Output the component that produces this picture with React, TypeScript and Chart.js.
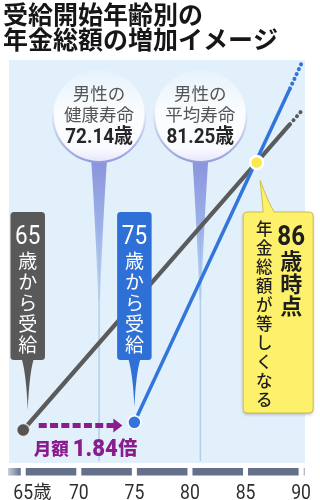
import React, { useEffect, useRef } from 'react';
import { Chart, registerables } from 'chart.js';

Chart.register(...registerables);

// ---------- data ----------
const TITLE_LINES = ['受給開始年齢別の', '年金総額の増加イメージ'];
const AXIS_TICKS = [65, 70, 75, 80, 85, 90];
const AXIS_TICK_LABELS = ['65', '70', '75', '80', '85', '90'];
const AXIS_FIRST_UNIT = '歳';

const START65_AGES = [65, 86, 89];
const START65_TOTALS = [0, 21, 24];
const START65_PROJ_AGES = [89, 90.1];
const START65_PROJ_TOTALS = [24, 25.1];

const START75_AGES = [75, 86, 89];
const START75_TOTALS = [0.6, 21.2, 26.8];
const START75_PROJ_AGES = [89, 90.1];
const START75_PROJ_TOTALS = [26.8, 28.9];

const BREAK_EVEN_AGES = [86];
const BREAK_EVEN_TOTALS = [21];

const LIFE_AGES = [72.14, 81.25];
const LIFE_LABELS = [
  ['男性の', '健康寿命', '72.14歳'],
  ['男性の', '平均寿命', '81.25歳'],
];

const START_AGES = [65, 75];
const START_NUMS = ['65', '75'];
const START_TEXT = '歳から受給';

const BREAK_EVEN_NUM = '86';
const BREAK_EVEN_COL_A = '歳時点';
const BREAK_EVEN_COL_B = '年金総額が等しくなる';

const RATIO_PREFIX = '月額';
const RATIO_VALUE = '1.84';
const RATIO_SUFFIX = '倍';

// ---------- styles ----------
const CJK = "'Noto Sans CJK JP'";
const NUM = "Roboto, 'Noto Sans CJK JP'";
const GRAY = '#5b5b5b';
const BLUE = '#3276dc';
const BOX_GRAY = '#595959';
const BOX_BLUE = '#2f70d6';
const PURPLE = '#8b1c8e';
const BG = '#e1f0fb';

const pts = (xs: number[], ys: number[]) => xs.map((x, i) => ({ x, y: ys[i] }));

function rr(ctx: CanvasRenderingContext2D, x: number, y: number, w: number, h: number, r: number) {
  ctx.beginPath();
  ctx.moveTo(x + r, y);
  ctx.lineTo(x + w - r, y);
  ctx.quadraticCurveTo(x + w, y, x + w, y + r);
  ctx.lineTo(x + w, y + h - r);
  ctx.quadraticCurveTo(x + w, y + h, x + w - r, y + h);
  ctx.lineTo(x + r, y + h);
  ctx.quadraticCurveTo(x, y + h, x, y + h - r);
  ctx.lineTo(x, y + r);
  ctx.quadraticCurveTo(x, y, x + r, y);
  ctx.closePath();
}

const bgPlugin = {
  id: 'bgArea',
  beforeDraw(chart: any) {
    const { ctx, chartArea: a } = chart;
    ctx.save();
    ctx.fillStyle = BG;
    ctx.fillRect(a.left, a.top, a.right - a.left, a.bottom - a.top);
    ctx.restore();
  },
};

const bubblePlugin = {
  id: 'bubbles',
  beforeDatasetsDraw(chart: any) {
    const { ctx, chartArea: a } = chart;
    const xs = chart.scales.x;
    LIFE_AGES.forEach((age, i) => {
      const cx = xs.getPixelForValue(age) - 3.5;
      const cy = 116;
      const r = 46;
      const stemTop = cy + r - 4;
      ctx.save();
      ctx.strokeStyle = 'rgba(170,203,235,0.9)';
      ctx.lineWidth = 1.5;
      ctx.beginPath();
      ctx.moveTo(cx, stemTop + 60);
      ctx.lineTo(cx, a.bottom - 2);
      ctx.stroke();
      const g = ctx.createLinearGradient(0, stemTop, 0, 300);
      g.addColorStop(0, '#8a92dc');
      g.addColorStop(0.5, 'rgba(150,172,230,0.9)');
      g.addColorStop(1, 'rgba(170,203,235,0.6)');
      ctx.fillStyle = g;
      ctx.beginPath();
      ctx.moveTo(cx - 8, stemTop);
      ctx.quadraticCurveTo(cx - 4, stemTop + 60, cx - 0.8, 300);
      ctx.lineTo(cx + 0.8, 300);
      ctx.quadraticCurveTo(cx + 4, stemTop + 60, cx + 8, stemTop);
      ctx.closePath();
      ctx.fill();
      const fg = ctx.createLinearGradient(0, cy - r, 0, cy + r);
      fg.addColorStop(0, 'rgba(255,255,255,0.15)');
      fg.addColorStop(0.45, 'rgba(255,255,255,0.85)');
      fg.addColorStop(0.85, 'rgba(250,251,255,1)');
      fg.addColorStop(1, 'rgba(228,230,250,1)');
      ctx.fillStyle = fg;
      ctx.beginPath();
      ctx.arc(cx, cy, r, 0, Math.PI * 2);
      ctx.fill();
      const sg = ctx.createLinearGradient(0, cy - r * 0.2, 0, cy + r);
      sg.addColorStop(0, 'rgba(160,165,222,0)');
      sg.addColorStop(1, 'rgba(150,156,220,1)');
      ctx.strokeStyle = sg;
      ctx.lineWidth = 2.2;
      ctx.beginPath();
      ctx.arc(cx, cy, r, 0, Math.PI * 2);
      ctx.stroke();
      const lines = LIFE_LABELS[i];
      ctx.textAlign = 'center';
      ctx.textBaseline = 'middle';
      ctx.fillStyle = '#555';
      ctx.font = `400 17.5px ${CJK}`;
      ctx.fillText(lines[0], cx, 93);
      ctx.fillText(lines[1], cx, 114);
      ctx.fillStyle = '#262626';
      ctx.font = `bold 20.5px ${NUM}`;
      ctx.save();
      ctx.translate(cx, 138);
      ctx.scale(0.92, 1);
      ctx.fillText(lines[2], 0, 0);
      ctx.restore();
      ctx.restore();
    });
  },
};

function vertChars(ctx: CanvasRenderingContext2D, text: string, cx: number, y0: number, step: number) {
  Array.from(text).forEach((ch, i) => ctx.fillText(ch, cx, y0 + i * step));
}

const annotPlugin = {
  id: 'annots',
  afterDatasetsDraw(chart: any) {
    const { ctx } = chart;
    const xs = chart.scales.x;
    const ys = chart.scales.y;

    const colors = [BOX_GRAY, BOX_BLUE];
    const dx = [4.5, 0];
    const tips = [410, 407];
    START_AGES.forEach((age, i) => {
      const cx = xs.getPixelForValue(age) + dx[i];
      const w = 34.5;
      const top = 212;
      const bottom = 360;
      ctx.save();
      ctx.fillStyle = colors[i];
      rr(ctx, cx - w / 2, top, w, bottom - top, 3.5);
      ctx.fill();
      ctx.beginPath();
      ctx.moveTo(cx - 6, bottom - 1);
      ctx.quadraticCurveTo(cx - 1.5, bottom + 14, cx, tips[i]);
      ctx.quadraticCurveTo(cx + 1.5, bottom + 14, cx + 6, bottom - 1);
      ctx.closePath();
      ctx.fill();
      ctx.fillStyle = '#fff';
      ctx.textAlign = 'center';
      ctx.textBaseline = 'middle';
      ctx.font = `400 25px ${NUM}`;
      ctx.save();
      ctx.translate(cx, 238);
      ctx.scale(0.9, 1);
      ctx.fillText(START_NUMS[i], 0, 0);
      ctx.restore();
      ctx.font = `400 19px ${CJK}`;
      vertChars(ctx, START_TEXT, cx, 261, 21);
      ctx.restore();
    });

    const bx = xs.getPixelForValue(BREAK_EVEN_AGES[0]);
    const by = ys.getPixelForValue(BREAK_EVEN_TOTALS[0]);
    const left = bx - 13.5;
    const top = 212;
    const w = 70;
    const h = 201;
    ctx.save();
    ctx.shadowColor = 'rgba(60,60,90,0.35)';
    ctx.shadowBlur = 3;
    ctx.shadowOffsetY = 1.5;
    ctx.fillStyle = '#fdf06a';
    rr(ctx, left, top, w, h, 4);
    ctx.fill();
    ctx.shadowColor = 'transparent';
    ctx.strokeStyle = '#cdbd4c';
    ctx.lineWidth = 1;
    rr(ctx, left, top, w, h, 4);
    ctx.stroke();
    const tipX = bx + 3.5;
    const tipY = by + 18;
    ctx.beginPath();
    ctx.moveTo(left + 20, top + 0.5);
    ctx.quadraticCurveTo(left + 19, top - 12, tipX, tipY);
    ctx.quadraticCurveTo(left + 25, top - 10, left + 31, top + 0.5);
    ctx.closePath();
    ctx.fillStyle = '#fdf06a';
    ctx.fill();
    ctx.strokeStyle = '#cdbd4c';
    ctx.beginPath();
    ctx.moveTo(left + 20, top);
    ctx.quadraticCurveTo(left + 19, top - 12, tipX, tipY);
    ctx.quadraticCurveTo(left + 25, top - 10, left + 31, top);
    ctx.stroke();
    ctx.fillStyle = '#fdf06a';
    ctx.fillRect(left + 20.5, top - 0.5, 10, 2);
    ctx.fillStyle = '#1e1e1e';
    ctx.textAlign = 'center';
    ctx.textBaseline = 'middle';
    ctx.font = `bold 28px ${NUM}`;
    ctx.save();
    ctx.translate(left + 48, 238);
    ctx.scale(0.86, 1);
    ctx.fillText(BREAK_EVEN_NUM, 0, 0);
    ctx.restore();
    ctx.font = `bold 22px ${CJK}`;
    vertChars(ctx, BREAK_EVEN_COL_A, left + 48, 261, 22.5);
    ctx.font = `500 16.5px ${CJK}`;
    vertChars(ctx, BREAK_EVEN_COL_B, left + 21, 229, 19);
    ctx.restore();

    const x0 = xs.getPixelForValue(START_AGES[0]) + 15.5;
    const x1 = xs.getPixelForValue(START_AGES[1]) - 12;
    const ay = 425.5;
    ctx.save();
    ctx.strokeStyle = PURPLE;
    ctx.fillStyle = PURPLE;
    ctx.lineWidth = 5;
    ctx.setLineDash([8, 3.3]);
    ctx.beginPath();
    ctx.moveTo(x0, ay);
    ctx.lineTo(x1 - 8, ay);
    ctx.stroke();
    ctx.setLineDash([]);
    ctx.beginPath();
    ctx.moveTo(x1 - 9, ay - 7);
    ctx.lineTo(x1, ay);
    ctx.lineTo(x1 - 9, ay + 7);
    ctx.closePath();
    ctx.fill();
    ctx.textBaseline = 'alphabetic';
    ctx.textAlign = 'left';
    let tx = x0 - 5;
    const base = 456;
    ctx.font = `900 17.5px ${CJK}`;
    ctx.fillText(RATIO_PREFIX, tx, base - 1);
    tx += ctx.measureText(RATIO_PREFIX).width + 4;
    ctx.font = `900 24px ${NUM}`;
    ctx.save();
    ctx.translate(tx, base);
    ctx.scale(0.92, 1);
    ctx.fillText(RATIO_VALUE, 0, 0);
    const vw = ctx.measureText(RATIO_VALUE).width * 0.92;
    ctx.restore();
    tx += vw + 0.5;
    ctx.font = `900 19px ${CJK}`;
    ctx.fillText(RATIO_SUFFIX, tx, base - 1);
    ctx.restore();
  },
  afterDraw(chart: any) {
    const { ctx, chartArea: a } = chart;
    const xs = chart.scales.x;
    const top = 468;
    const hgt = 7.5;
    const gapW = 5;
    const tickPx = AXIS_TICKS.map((t) => xs.getPixelForValue(t));
    const edges = [a.left - 1, ...tickPx, a.right];
    ctx.save();
    for (let i = 0; i < edges.length - 1; i++) {
      const s = i === 0 ? edges[i] : edges[i] + gapW / 2;
      const e = i === edges.length - 2 ? edges[i + 1] : edges[i + 1] - gapW / 2;
      if (e <= s) continue;
      if (i === 0) {
        const g = ctx.createLinearGradient(s, 0, e, 0);
        g.addColorStop(0, '#c9cdd8');
        g.addColorStop(1, '#65708b');
        ctx.fillStyle = g;
      } else if (i === edges.length - 2) {
        ctx.fillStyle = '#b5bac8';
      } else {
        ctx.fillStyle = '#65708b';
      }
      ctx.fillRect(s, top, e - s, hgt);
    }
    ctx.fillStyle = '#2e2e2e';
    ctx.textBaseline = 'alphabetic';
    AXIS_TICKS.forEach((t, i) => {
      const x = tickPx[i];
      ctx.font = `400 20px ${NUM}`;
      ctx.textAlign = 'center';
      ctx.save();
      ctx.translate(x, 498.5);
      ctx.scale(0.88, 1);
      ctx.fillText(AXIS_TICK_LABELS[i], 0, 0);
      const w = ctx.measureText(AXIS_TICK_LABELS[i]).width * 0.88;
      ctx.restore();
      if (i === 0) {
        ctx.font = `400 18px ${CJK}`;
        ctx.textAlign = 'left';
        ctx.fillText(AXIS_FIRST_UNIT, x + w / 2 + 0.5, 497.5);
      }
    });
    ctx.restore();
  },
};

export default function App() {
  const ref = useRef<HTMLCanvasElement | null>(null);
  useEffect(() => {
    if (!ref.current) return;
    const chart = new Chart(ref.current, {
      type: 'line',
      data: {
        datasets: [
          {
            label: '65歳から受給',
            data: pts(START65_AGES, START65_TOTALS),
            borderColor: GRAY,
            borderWidth: 4.2,
            pointRadius: [6.5, 0, 0],
            pointBackgroundColor: '#555',
            pointBorderColor: 'rgba(255,255,255,0.7)',
            pointBorderWidth: 1.5,
            tension: 0,
            order: 3,
          },
          {
            label: '65歳から受給(見込み)',
            data: pts(START65_PROJ_AGES, START65_PROJ_TOTALS),
            borderColor: GRAY,
            borderWidth: 4,
            borderDash: [0.1, 5.2],
            borderCapStyle: 'round',
            pointRadius: 0,
            order: 3,
          },
          {
            label: '75歳から受給',
            data: pts(START75_AGES, START75_TOTALS),
            borderColor: BLUE,
            borderWidth: 3.5,
            pointRadius: [6.5, 0, 0],
            pointBackgroundColor: BLUE,
            pointBorderColor: '#ffffff',
            pointBorderWidth: 1.5,
            tension: 0,
            order: 2,
          },
          {
            label: '75歳から受給(見込み)',
            data: pts(START75_PROJ_AGES, START75_PROJ_TOTALS),
            borderColor: BLUE,
            borderWidth: 4,
            borderDash: [0.1, 5.2],
            borderCapStyle: 'round',
            pointRadius: 0,
            order: 2,
          },
          {
            label: '年金総額が等しくなる',
            data: pts(BREAK_EVEN_AGES, BREAK_EVEN_TOTALS),
            showLine: false,
            pointRadius: 6.5,
            pointBackgroundColor: '#fbe84c',
            pointBorderColor: '#ffffff',
            pointBorderWidth: 2.5,
            order: 1,
          },
        ],
      },
      options: {
        animation: false,
        responsive: false,
        maintainAspectRatio: false,
        events: [],
        layout: { padding: { left: 3, right: 15, top: 0, bottom: 37 } },
        plugins: {
          legend: { display: false },
          tooltip: { enabled: false },
          title: {
            display: true,
            text: TITLE_LINES,
            align: 'start',
            color: '#161616',
            font: { family: CJK, size: 25, weight: 'bold', lineHeight: 1.0 },
            padding: { top: 2, bottom: 8 },
          },
        },
        scales: {
          x: { type: 'linear', min: 63.72, max: 90.35, display: false },
          y: { type: 'linear', min: -2.59, max: 29.04, display: false },
        },
      } as any,
      plugins: [bgPlugin, bubblePlugin, annotPlugin],
    });
    return () => chart.destroy();
  }, []);
  return (
    <div style={{ position: 'fixed', left: 0, top: 0, width: 320, height: 500, background: '#fff' }}>
      <canvas ref={ref} width={320} height={500} style={{ display: 'block' }} />
    </div>
  );
}
